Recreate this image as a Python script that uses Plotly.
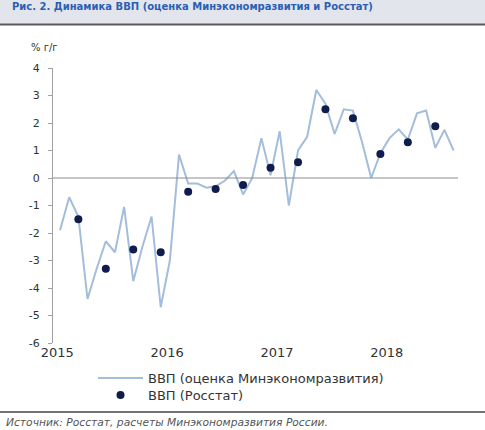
import plotly.graph_objects as go

# ---- data ----
years = ["2015", "2016", "2017", "2018"]
gdp_monthly = [
    -1.9, -0.7, -1.4, -4.4, -3.3, -2.3, -2.7, -1.05, -3.75, -2.5, -1.4, -4.7,   # 2015
    -3.0, 0.85, -0.2, -0.2, -0.35, -0.3, -0.1, 0.25, -0.6, 0.0, 1.45, 0.1,    # 2016
    1.7, -1.0, 1.0, 1.5, 3.2, 2.7, 1.6, 2.5, 2.45, 1.3, 0.0, 0.9,             # 2017
    1.45, 1.77, 1.4, 2.35, 2.45, 1.1, 1.75, 1.0,                               # 2018
]
gdp_quarterly = [-1.5, -3.3, -2.6, -2.7, -0.5, -0.4, -0.25, 0.37,
                 0.57, 2.5, 2.17, 0.87, 1.3, 1.88]
y_ticks = [4, 3, 2, 1, 0, -1, -2, -3, -4, -5, -6]

title_text = "Рис. 2. Динамика ВВП (оценка Минэкономразвития и Росстат)"
unit_text = "% г/г"
line_name = "ВВП (оценка Минэкономразвития)"
dot_name = "ВВП (Росстат)"
source_text = "Источник: Росстат, расчеты Минэкономразвития России."

month_idx = list(range(len(gdp_monthly)))
quarter_idx = [3 * q + 2 for q in range(len(gdp_quarterly))]
year_pos = [12 * k - 0.3 for k in range(len(years))]

W, H = 485, 430
L, R, T, B = 53, 25, 68, 87
plot_h = H - T - B


def yp(px):
    return (H - B - px) / plot_h


def xp(px):
    return (px - L) / (W - L - R)


FONT = "DejaVu Sans"

fig = go.Figure()
fig.add_trace(go.Scatter(
    x=month_idx, y=gdp_monthly, mode="lines", name=line_name,
    line=dict(color="#a3bddb", width=2), legend="legend",
))
fig.add_trace(go.Scatter(
    x=quarter_idx, y=gdp_quarterly, mode="markers", name=dot_name,
    marker=dict(color="#101c4c", size=8), legend="legend2",
))

# zero line
fig.add_shape(type="line", xref="paper", yref="y", x0=0, x1=xp(458), y0=0, y1=0,
              line=dict(color="#8c8c8c", width=1))

# header band
fig.add_shape(type="rect", xref="paper", yref="paper", x0=-0.2, x1=1.2,
              y0=yp(24), y1=yp(-20), fillcolor="#e2e6ec", line_width=0, layer="below")
fig.add_shape(type="line", xref="paper", yref="paper", x0=-0.2, x1=1.2,
              y0=yp(24.5), y1=yp(24.5), line=dict(color="#5a5a5a", width=2))
# bottom separator
fig.add_shape(type="line", xref="paper", yref="paper", x0=-0.2, x1=1.2,
              y0=yp(412), y1=yp(412), line=dict(color="#444444", width=1.5))

fig.add_annotation(text="<b>" + title_text + "</b>", xref="paper", yref="paper",
                   x=xp(10), y=yp(6), xanchor="left", yanchor="middle", showarrow=False,
                   font=dict(family=FONT, size=10, color="#2b5fb4"))
fig.add_annotation(text=unit_text, xref="paper", yref="paper",
                   x=xp(29), y=yp(48), xanchor="left", yanchor="middle", showarrow=False,
                   font=dict(family=FONT, size=10, color="#333333"))
fig.add_annotation(text="<i>" + source_text + "</i>", xref="paper", yref="paper",
                   x=xp(4), y=yp(422), xanchor="left", yanchor="middle", showarrow=False,
                   font=dict(family=FONT, size=10.7, color="#555555"))

legend_common = dict(
    xanchor="left", yanchor="middle", bgcolor="rgba(0,0,0,0)", itemwidth=45,
    font=dict(family=FONT, size=13, color="#333333"),
)
fig.update_layout(
    width=W, height=H,
    margin=dict(l=L, r=R, t=T, b=B),
    paper_bgcolor="white", plot_bgcolor="white",
    font=dict(family=FONT, size=12, color="#333333"),
    showlegend=True,
    legend=dict(x=xp(93), y=yp(378), **legend_common),
    legend2=dict(x=xp(93), y=yp(395), **legend_common),
)
fig.update_xaxes(
    range=[-0.77, 43.7], showgrid=False, zeroline=False, showline=False,
    tickvals=year_pos, ticktext=years, ticks="",
    tickfont=dict(family=FONT, size=13, color="#333333"),
)
fig.update_yaxes(
    range=[-6, 4], showgrid=False, zeroline=False,
    showline=True, linecolor="#a0a0a0", linewidth=1,
    tickvals=y_ticks, ticktext=[str(v) for v in y_ticks],
    ticks="outside", ticklen=4, tickcolor="#a0a0a0",
    ticklabelstandoff=6,
    tickfont=dict(family=FONT, size=11, color="#333333"),
)

fig.write_html("out.html", config={"displayModeBar": False},
               post_script="document.body.style.margin='0';")
